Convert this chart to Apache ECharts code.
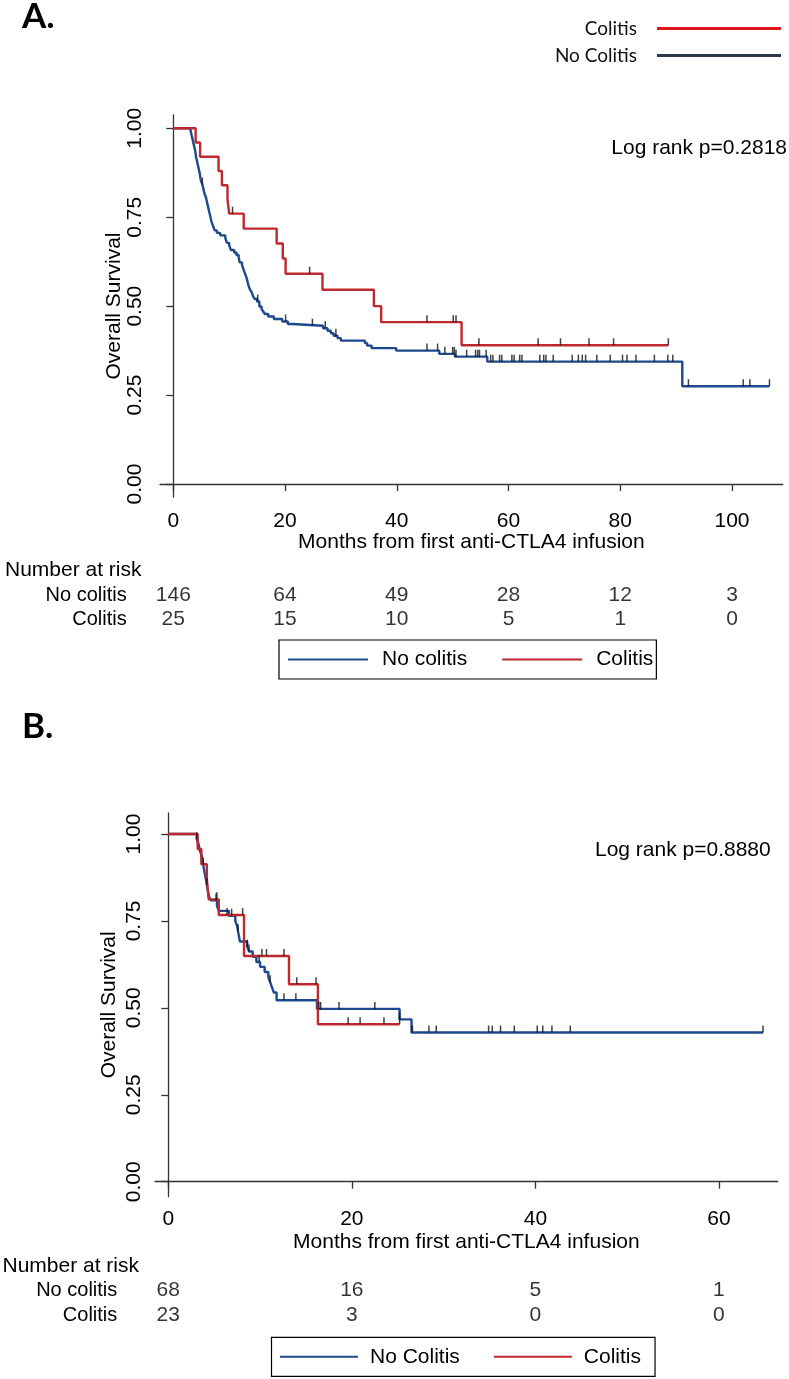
<!DOCTYPE html>
<html>
<head>
<meta charset="utf-8">
<script src="https://cdn.jsdelivr.net/npm/echarts@6/dist/echarts.min.js"></script>
<style>
  html, body { margin: 0; padding: 0; background: #fff; }
  #chart { width: 789px; height: 1379px; }
</style>
</head>
<body>
<div id="chart"></div>
<script>
// ---------- Tick labels ----------
const monthTicksA = [0, 20, 40, 60, 80, 100];
const monthTicksB = [0, 20, 40, 60];
const survTicks = [0, 0.25, 0.5, 0.75, 1];

// ---------- Panel A: Kaplan-Meier steps [month, survival] ----------
const kmNoColitisA = [
  [0,1],[3.1,0.993],[3.3,0.979],[3.5,0.966],[3.7,0.952],[3.9,0.938],[4.1,0.918],[4.3,0.904],
  [4.5,0.890],[4.7,0.876],[4.9,0.856],[5.2,0.842],[5.4,0.829],[5.6,0.815],[5.8,0.808],[6.0,0.795],
  [6.2,0.781],[6.4,0.767],[6.6,0.754],[6.8,0.740],[7.1,0.726],[7.4,0.713],[7.8,0.706],[8.4,0.699],
  [9.3,0.692],[9.6,0.678],[10.0,0.671],[10.3,0.658],[10.9,0.651],[11.3,0.644],[11.7,0.637],
  [11.9,0.623],[12.3,0.616],[12.6,0.602],[12.9,0.589],[13.2,0.575],[13.4,0.561],[13.7,0.547],
  [14.0,0.540],[14.3,0.527],[14.6,0.520],[15.0,0.513],[15.4,0.499],[15.8,0.492],[16.1,0.485],
  [16.4,0.478],[17.0,0.471],[18.0,0.464],[19.5,0.457],[20.5,0.450],[21.3,0.445],[26.8,0.438],
  [27.6,0.431],[28.2,0.424],[28.7,0.417],[29.4,0.410],[30.0,0.403],[34.3,0.396],[34.7,0.389],
  [35.5,0.382],[39.9,0.375],[47.6,0.366],[50.4,0.358],[56.2,0.344],[91.1,0.275],[106.7,0.275]
];
const kmColitisA = [
  [0,1],[4.0,0.96],[4.8,0.92],[8.1,0.88],[8.7,0.84],[9.7,0.80],[10.0,0.76],[12.6,0.718],
  [18.5,0.676],[19.6,0.634],[20.1,0.591],[26.7,0.546],[35.9,0.500],[37.2,0.455],[51.6,0.390],[88.6,0.390]
];
const censorNoColitisA = [5.2,15.1,20.1,24.9,27.2,29.1,45.4,47.3,48.6,50.0,50.3,50.6,52.5,54.1,54.5,54.8,
  56.0,56.8,57.2,58.4,58.8,60.6,61.0,62.0,62.4,65.6,66.3,66.7,68.0,71.4,72.5,73.2,73.8,75.8,78.2,
  80.4,81.2,82.8,86.1,88.5,89.4,92.2,102.0,103.2,106.7];
const censorColitisA = [10.6,24.4,45.4,50.1,50.6,54.7,65.3,69.3,74.4,78.8,88.6];

// ---------- Panel B ----------
const kmNoColitisB = [
  [0,1],[3.1,0.985],[3.3,0.971],[3.4,0.956],[3.6,0.941],[3.7,0.926],[3.8,0.912],[3.9,0.897],
  [4.0,0.882],[4.1,0.868],[4.2,0.853],[4.3,0.838],[4.4,0.824],[4.6,0.809],[5.3,0.794],[5.5,0.779],
  [6.6,0.765],[7.3,0.750],[7.5,0.735],[7.6,0.720],[7.7,0.706],[7.8,0.691],[8.6,0.676],[8.8,0.662],
  [9.2,0.647],[9.6,0.632],[10.0,0.618],[10.5,0.603],[10.9,0.588],[11.1,0.574],[11.3,0.559],
  [11.5,0.544],[11.8,0.522],[16.2,0.497],[25.2,0.467],[26.5,0.429],[64.8,0.429]
];
const kmColitisB = [
  [0,1],[3.2,0.957],[3.6,0.913],[4.2,0.870],[4.4,0.812],[5.5,0.767],[8.25,0.649],
  [13.15,0.568],[16.3,0.453],[25.2,0.453]
];
const censorNoColitisB = [3.1,3.8,4.2,5.2,6.9,7.6,8.6,8.8,9.9,11.1,12.6,13.9,16.4,16.6,18.6,22.5,
  25.2,26.6,28.4,29.2,34.9,35.3,36.2,37.7,40.2,40.8,41.8,43.8,64.8];
const censorColitisB = [5.3,6.4,8.1,10.2,10.7,12.6,14.0,16.1,19.6,20.9,23.5,25.2];

// ---------- Number at risk ----------
const riskRows = ['No colitis', 'Colitis'];
const riskTimesA = [0, 20, 40, 60, 80, 100];
const riskNoColitisA = [146, 64, 49, 28, 12, 3];
const riskColitisA = [25, 15, 10, 5, 1, 0];
const riskTimesB = [0, 20, 40, 60];
const riskNoColitisB = [68, 16, 5, 1];
const riskColitisB = [23, 3, 0, 0];

// ---------- Styling ----------
const BLUE = '#1d4a8c';
const RED = '#c0282f';
const FONT = '"Liberation Sans", Arial, Helvetica, sans-serif';
const FONT2 = 'Lato, "Open Sans", sans-serif';
const AXIS_COLOR = '#333';

function survAt(curve, t) {
  let s = curve[0][1];
  for (const p of curve) { if (p[0] <= t) s = p[1]; else break; }
  return s;
}
function censorData(curve, times) { return times.map(t => [t, survAt(curve, t)]); }
function riskData(times, row, vals) { return times.map((t, i) => [t, row, vals[i]]); }

function valueXAxis(grid, min, max, ticks, labelMargin) {
  return {
    gridIndex: grid, type: 'value', min: min, max: max,
    axisLine: { show: true, lineStyle: { color: AXIS_COLOR, width: 1.3 } },
    axisTick: { show: true, customValues: ticks, length: 7, lineStyle: { color: AXIS_COLOR, width: 1.3 } },
    axisLabel: { customValues: ticks, margin: labelMargin, fontSize: 21, color: '#000', fontFamily: FONT },
    splitLine: { show: false },
    name: 'Months from first anti-CTLA4 infusion', nameLocation: 'middle', nameGap: 35,
    nameMoveOverlap: false,
    nameTextStyle: { fontSize: 21, color: '#000', fontFamily: FONT }
  };
}
function valueYAxis(grid, min, max, labelMargin, nameGap) {
  return {
    gridIndex: grid, type: 'value', min: min, max: max,
    axisLine: { show: true, lineStyle: { color: AXIS_COLOR, width: 1.3 } },
    axisTick: { show: true, customValues: survTicks, length: 7, lineStyle: { color: AXIS_COLOR, width: 1.3 } },
    axisLabel: { customValues: survTicks, rotate: 90, margin: labelMargin, fontSize: 21, color: '#000',
      fontFamily: FONT, formatter: v => Number(v).toFixed(2) },
    splitLine: { show: false },
    name: 'Overall Survival', nameLocation: 'middle', nameGap: nameGap, nameRotate: 90,
    nameMoveOverlap: false,
    nameTextStyle: { fontSize: 21, color: '#000', fontFamily: FONT }
  };
}
function hiddenX(grid, min, max) { return { gridIndex: grid, type: 'value', min: min, max: max, show: false }; }
function riskY(grid, margin) {
  return {
    gridIndex: grid, type: 'category', data: riskRows, inverse: true,
    axisLine: { show: false }, axisTick: { show: false }, splitLine: { show: false },
    axisLabel: { interval: 0, margin: margin, fontSize: 20, color: '#000', fontFamily: FONT, align: 'right' }
  };
}
function kmLine(name, data, color, xi, yi) {
  return { name: name, type: 'line', step: 'end', data: data, xAxisIndex: xi, yAxisIndex: yi,
    symbol: 'none', showSymbol: false, lineStyle: { color: color, width: 2.4 }, itemStyle: { color: color },
    z: 3, animation: false };
}
function censors(name, data, xi, yi) {
  return { name: name, type: 'scatter', data: data, xAxisIndex: xi, yAxisIndex: yi,
    symbol: 'rect', symbolSize: [1.5, 7], symbolOffset: [0, -3.5], itemStyle: { color: '#111' },
    z: 4, animation: false, silent: true };
}
function riskSeries(name, data, xi, yi) {
  return { name: name, type: 'scatter', data: data, xAxisIndex: xi, yAxisIndex: yi,
    symbolSize: 1, itemStyle: { color: 'rgba(0,0,0,0)' }, animation: false, silent: true,
    label: { show: true, position: 'inside', formatter: p => String(p.value[2]),
      fontSize: 21, color: '#000', fontFamily: FONT } };
}

const xMinA = -2.38, xMaxA = 109.07, yMinA = -0.0365, yMaxA = 1.0374;
const xMinB = -1.449, xMaxB = 66.4, yMinB = -0.0431, yMaxB = 1.0604;

const option = {
  backgroundColor: '#fff',
  animation: false,
  grid: [
    { left: 160, top: 115, width: 622.7, height: 382 },
    { left: 160, top: 582.85, width: 622.7, height: 48.6 },
    { left: 155, top: 813, width: 622.7, height: 383.7 },
    { left: 155, top: 1278.2, width: 622.7, height: 50 }
  ],
  xAxis: [
    valueXAxis(0, xMinA, xMaxA, monthTicksA, 14),
    hiddenX(1, xMinA, xMaxA),
    valueXAxis(2, xMinB, xMaxB, monthTicksB, 12),
    hiddenX(3, xMinB, xMaxB)
  ],
  yAxis: [
    valueYAxis(0, yMinA, yMaxA, 14, 35),
    riskY(1, 33.3),
    valueYAxis(2, yMinB, yMaxB, 10.5, 35.5),
    riskY(3, 37.7)
  ],
  legend: [
    {
      right: 3, top: 14, orient: 'vertical', align: 'right', selectedMode: false,
      itemWidth: 139, itemHeight: 3, itemGap: 8,
      icon: 'path://M0,0M15,0L139,0L139,3L15,3Z',
      itemStyle: { borderWidth: 0 },
      data: [
        { name: 'Colitis', itemStyle: { color: '#e0141e', borderWidth: 0 } },
        { name: 'No Colitis', itemStyle: { color: '#2d3a4b', borderWidth: 0 } }
      ],
      textStyle: { fontFamily: FONT2, fontSize: 19, color: '#111' }
    },
    {
      left: 279, top: 640, orient: 'horizontal', selectedMode: false,
      padding: [9, 3, 9, 9], borderColor: '#000', borderWidth: 1.2,
      itemWidth: 89, itemHeight: 2, itemGap: 35,
      icon: 'path://M0,0L80,0L80,2L0,2ZM89,0',
      itemStyle: { borderWidth: 0 },
      data: [
        { name: 'No colitis', itemStyle: { color: BLUE, borderWidth: 0 } },
        { name: 'Colitis', itemStyle: { color: RED, borderWidth: 0 } }
      ],
      textStyle: { fontFamily: FONT, fontSize: 21, color: '#000' }
    },
    {
      left: 271.5, top: 1337.3, orient: 'horizontal', selectedMode: false,
      padding: [9, 14, 9, 8.5], borderColor: '#000', borderWidth: 1.2,
      itemWidth: 85, itemHeight: 2, itemGap: 34,
      icon: 'path://M0,0L78,0L78,2L0,2ZM85,0',
      itemStyle: { borderWidth: 0 },
      data: [
        { name: 'No Colitis', itemStyle: { color: BLUE, borderWidth: 0 } },
        { name: 'Colitis', itemStyle: { color: RED, borderWidth: 0 } }
      ],
      textStyle: { fontFamily: FONT, fontSize: 21, color: '#000' }
    }
  ],
  graphic: [
    { type: 'text', x: 22, y: 17, style: { text: 'A.', font: 'bold 35px Lato, "Open Sans", sans-serif', fill: '#000', verticalAlign: 'middle' } },
    { type: 'text', x: 22, y: 727, style: { text: 'B.', font: 'bold 35px Lato, "Open Sans", sans-serif', fill: '#000', verticalAlign: 'middle' } },
    { type: 'text', x: 5, y: 570, style: { text: 'Number at risk', font: '21px "Liberation Sans", Arial, sans-serif', fill: '#000', verticalAlign: 'middle' } },
    { type: 'text', x: 2.5, y: 1266.7, style: { text: 'Number at risk', font: '21px "Liberation Sans", Arial, sans-serif', fill: '#000', verticalAlign: 'middle' } },
    { type: 'text', x: 787, y: 148.3, style: { text: 'Log rank p=0.2818', font: '21px "Liberation Sans", Arial, sans-serif', fill: '#000', align: 'right', verticalAlign: 'middle' } },
    { type: 'text', x: 770.7, y: 850, style: { text: 'Log rank p=0.8880', font: '21px "Liberation Sans", Arial, sans-serif', fill: '#000', align: 'right', verticalAlign: 'middle' } }
  ],
  series: [
    kmLine('No colitis', kmNoColitisA, BLUE, 0, 0),
    kmLine('Colitis', kmColitisA, RED, 0, 0),
    censors('cens-A-nocolitis', censorData(kmNoColitisA, censorNoColitisA), 0, 0),
    censors('cens-A-colitis', censorData(kmColitisA, censorColitisA), 0, 0),
    riskSeries('risk-A-no', riskData(riskTimesA, riskRows[0], riskNoColitisA), 1, 1),
    riskSeries('risk-A-col', riskData(riskTimesA, riskRows[1], riskColitisA), 1, 1),
    kmLine('No Colitis', kmNoColitisB, BLUE, 2, 2),
    kmLine('Colitis', kmColitisB, RED, 2, 2),
    censors('cens-B-nocolitis', censorData(kmNoColitisB, censorNoColitisB), 2, 2),
    censors('cens-B-colitis', censorData(kmColitisB, censorColitisB), 2, 2),
    riskSeries('risk-B-no', riskData(riskTimesB, riskRows[0], riskNoColitisB), 3, 3),
    riskSeries('risk-B-col', riskData(riskTimesB, riskRows[1], riskColitisB), 3, 3)
  ]
};

const chart = echarts.init(document.getElementById('chart'), null, { renderer: 'canvas' });
chart.setOption(option);
</script>
</body>
</html>
